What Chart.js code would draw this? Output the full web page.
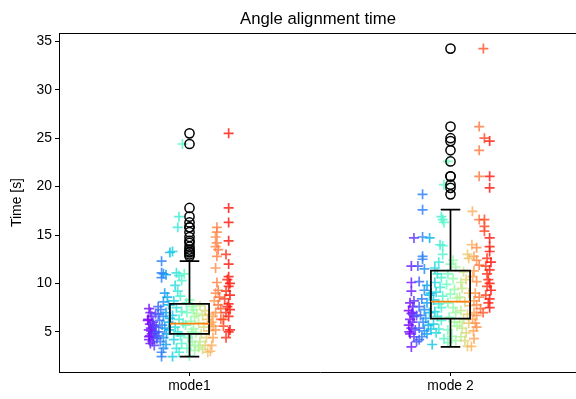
<!DOCTYPE html>
<html>
<head>
<meta charset="utf-8">
<script src="https://cdn.jsdelivr.net/npm/chart.js@4.4.1/dist/chart.umd.min.js"></script>
<style>
  html, body { margin: 0; padding: 0; overflow: hidden; background: #fff; }
  canvas { display: block; }
</style>
</head>
<body>
<canvas id="chart" width="582" height="399"></canvas>
<script>
// ---- data ----
const categories = ['mode1', 'mode 2'];
const yTicks = [5, 10, 15, 20, 25, 30, 35];

// horizontal jitter (in category units) and time [s] of each trial
const mode1Jitter = [
  -0.155,-0.15,-0.145,-0.158,-0.14,-0.152,-0.135,-0.148,-0.156,-0.13,-0.145,-0.152,-0.138,-0.155,-0.142,-0.15,-0.135,-0.128,-0.16,-0.133,-0.147,-0.125,-0.14,-0.13,-0.155,
  -0.107,-0.107,-0.1,-0.107,-0.09,-0.095,-0.085,-0.1,-0.12,-0.11,-0.09,-0.1,-0.115,-0.08,-0.105,-0.095,-0.118,-0.088,-0.1,-0.112,-0.09,-0.1,-0.107,-0.107,-0.075,-0.08,-0.075,-0.12,-0.122,-0.078,
  -0.027,-0.04,-0.045,-0.065,-0.065,-0.05,-0.04,-0.03,-0.055,-0.045,-0.035,-0.06,-0.05,-0.03,-0.065,-0.04,-0.025,-0.055,-0.045,-0.035,-0.06,-0.03,-0.05,-0.04,-0.02,
  0.0,0.01,-0.01,0.02,0.005,-0.015,0.015,0.025,-0.005,0.01,0.02,-0.01,0.0,0.015,0.028,-0.012,0.008,0.02,
  0.04,0.06,0.05,0.07,0.035,0.055,0.075,0.045,0.065,0.04,0.06,0.05,0.07,0.075,0.08,0.035,
  0.105,0.105,0.1,0.105,0.1,0.11,0.105,0.1,0.105,0.11,0.1,0.115,0.095,0.11,0.12,0.1,0.09,0.12,0.085,0.09,0.1,0.09,0.085,0.08,
  0.15,0.15,0.15,0.15,0.14,0.15,0.15,0.145,0.155,0.15,0.14,0.155,0.135,0.15,0.145,0.155,0.14,0.15,0.13,0.155,0.15,0.14,0.13
];
const mode1Time = [
  7.4,7.0,6.6,6.3,6.0,5.8,5.6,5.4,5.2,5.0,4.8,4.6,4.4,4.2,4.0,3.8,3.6,5.5,6.2,4.9,5.1,4.3,5.7,6.9,4.5,
  12.3,11.1,11.0,10.6,10.9,9.0,8.6,8.1,7.6,7.3,7.0,6.6,6.2,6.0,5.7,5.4,5.0,4.8,4.4,4.0,3.7,3.3,2.9,2.45,13.2,7.8,6.4,6.8,4.6,5.2,
  24.4,16.9,15.8,13.3,2.45,11.1,10.8,10.3,9.8,9.2,8.7,8.2,7.5,7.1,6.7,6.3,5.9,5.5,5.0,4.6,4.2,3.8,3.3,2.9,11.0,
  8.3,7.6,7.0,6.6,6.1,5.7,5.3,4.9,4.4,4.0,3.6,3.3,2.5,7.3,6.9,8.0,5.0,3.1,
  7.7,7.2,6.7,6.3,5.9,5.5,5.1,4.8,4.4,4.0,3.6,3.2,2.9,6.8,5.8,3.4,
  15.8,15.3,14.8,14.2,13.8,13.5,12.8,11.6,10.1,9.3,9.0,8.6,8.2,7.8,7.4,7.0,6.6,6.3,6.0,5.6,5.2,4.4,3.6,3.0,
  25.5,17.8,16.3,14.4,13.0,12.0,10.7,10.4,10.0,9.7,9.2,8.8,8.4,7.9,7.6,7.3,7.0,6.6,6.3,5.2,5.0,4.4,5.6
];

const mode2Jitter = [
  -0.14,-0.15,-0.15,-0.15,-0.155,-0.145,-0.16,-0.15,-0.14,-0.155,-0.145,-0.16,-0.15,-0.135,-0.155,-0.14,-0.15,-0.13,-0.145,-0.13,-0.158,-0.14,
  -0.107,-0.107,-0.107,-0.08,-0.107,-0.107,-0.125,-0.1,-0.12,-0.09,-0.1,-0.08,-0.11,-0.09,-0.12,-0.1,-0.08,-0.115,-0.095,-0.105,-0.085,-0.12,-0.1,-0.09,-0.12,-0.11,-0.075,-0.075,
  -0.01,-0.025,-0.035,-0.03,-0.025,-0.04,-0.03,-0.03,-0.045,-0.06,-0.05,-0.035,-0.06,-0.04,-0.055,-0.03,-0.065,-0.045,-0.035,-0.06,-0.05,-0.035,-0.065,-0.045,-0.07,-0.025,-0.055,
  0.0,0.02,-0.01,0.01,-0.015,0.015,0.0,0.025,-0.01,0.01,0.02,-0.005,0.015,0.025,-0.01,0.005,0.02,-0.01,0.01,
  0.065,0.07,0.05,0.04,0.06,0.045,0.07,0.035,0.055,0.075,0.04,0.065,0.05,0.07,0.045,0.06,0.04,0.055,0.065,0.035,
  0.11,0.11,0.11,0.084,0.11,0.082,0.1,0.09,0.1,0.11,0.09,0.085,0.1,0.095,0.11,0.09,0.1,0.115,0.09,0.1,0.085,0.095,0.1,0.088,0.08,0.09,
  0.126,0.13,0.15,0.15,0.15,0.13,0.13,0.13,0.15,0.15,0.15,0.14,0.155,0.135,0.15,0.14,0.145,0.15,0.14,0.155,0.135,0.15,0.145,0.15,0.125
];
const mode2Time = [
  14.7,11.8,10.1,9.2,8.0,7.6,7.2,6.9,6.6,6.3,6.0,5.7,5.4,5.2,4.8,4.5,3.45,4.0,7.0,6.7,5.0,8.2,
  19.2,17.6,14.8,14.7,12.8,12.5,11.8,11.5,10.2,9.8,9.3,8.8,8.4,8.0,7.6,7.3,7.0,6.7,6.4,6.0,5.7,5.4,5.1,4.8,4.2,4.5,5.3,9.0,
  22.6,20.2,16.9,16.6,16.3,14.0,13.0,13.9,12.2,11.6,11.0,10.6,10.1,9.6,9.1,8.7,8.3,7.9,7.5,7.1,6.6,6.2,5.8,5.3,3.7,4.3,4.9,
  12.0,11.7,11.0,10.5,9.9,9.4,8.9,8.5,8.0,7.5,7.0,6.5,6.0,5.6,5.2,4.55,4.1,3.9,12.4,
  13.0,12.6,11.2,10.1,10.4,9.5,9.0,8.6,8.1,7.7,7.2,6.8,6.3,5.9,5.4,4.9,4.5,4.1,3.5,6.0,
  26.2,23.75,21.06,17.45,16.6,14.0,13.7,12.8,12.4,11.9,11.3,10.7,10.2,9.0,8.6,8.2,7.8,7.4,7.0,6.7,6.3,5.9,5.5,5.1,3.5,4.3,
  34.25,25.0,24.7,21.06,19.87,16.6,15.9,15.4,14.7,13.8,13.3,12.6,12.2,11.8,11.4,11.0,10.4,10.0,9.7,9.3,8.8,8.4,8.0,7.5,7.0
];

// box statistics per category
const boxQ1 = [4.8, 6.37];
const boxMedian = [5.86, 8.13];
const boxQ3 = [7.89, 11.33];
const whiskerLow = [2.45, 3.45];
const whiskerHigh = [12.3, 17.63];

// ---- styling helpers ----
const FONT = '"Liberation Sans", Arial, sans-serif';
const BOX_WIDTH = 0.15;
const JITTER_SPAN = 0.16;

// matplotlib "rainbow" colormap
function rainbow(t, alpha) {
  t = Math.max(0, Math.min(1, t));
  const r = Math.min(1, Math.abs(2 * t - 0.5));
  const g = Math.sin(Math.PI * t);
  const b = Math.cos(Math.PI * t / 2);
  return `rgba(${Math.round(r * 255)},${Math.round(g * 255)},${Math.round(b * 255)},${alpha})`;
}

const groups = [
  { jitter: mode1Jitter, time: mode1Time },
  { jitter: mode2Jitter, time: mode2Time }
];

const scatterSets = groups.map((g, i) => ({
  type: 'scatter',
  order: 1,
  data: g.time.map((v, k) => ({ x: i + 1 + g.jitter[k], y: v })),
  pointStyle: 'cross',
  pointRadius: 5,
  pointBorderWidth: 1.7,
  pointBorderColor: g.jitter.map(j => rainbow((j + JITTER_SPAN) / (2 * JITTER_SPAN), 0.82)),
  pointBackgroundColor: 'transparent'
}));

const flierSets = groups.map((g, i) => ({
  type: 'scatter',
  order: 0,
  data: g.time.filter(v => v > whiskerHigh[i] || v < whiskerLow[i]).map(v => ({ x: i + 1, y: v })),
  pointStyle: 'circle',
  pointRadius: 4.6,
  pointBorderWidth: 1.5,
  pointBorderColor: '#000',
  pointBackgroundColor: 'transparent'
}));

// box, median, whiskers, caps, top spine and title
const boxPlugin = {
  id: 'boxes',
  afterDatasetsDraw(chart) {
    const { ctx, chartArea, scales: { x, y } } = chart;
    ctx.save();
    categories.forEach((c, i) => {
      const pos = i + 1;
      const cx = x.getPixelForValue(pos);
      const l = x.getPixelForValue(pos - BOX_WIDTH / 2);
      const r = x.getPixelForValue(pos + BOX_WIDTH / 2);
      const cl = x.getPixelForValue(pos - BOX_WIDTH / 4);
      const cr = x.getPixelForValue(pos + BOX_WIDTH / 4);
      const q1 = y.getPixelForValue(boxQ1[i]);
      const q3 = y.getPixelForValue(boxQ3[i]);
      const lo = y.getPixelForValue(whiskerLow[i]);
      const hi = y.getPixelForValue(whiskerHigh[i]);
      const med = y.getPixelForValue(boxMedian[i]);

      ctx.strokeStyle = '#000';
      ctx.lineWidth = 1.7;
      ctx.beginPath();
      ctx.rect(l, q3, r - l, q1 - q3);
      ctx.moveTo(cx, q3); ctx.lineTo(cx, hi);
      ctx.moveTo(cx, q1); ctx.lineTo(cx, lo);
      ctx.moveTo(cl, hi); ctx.lineTo(cr, hi);
      ctx.moveTo(cl, lo); ctx.lineTo(cr, lo);
      ctx.stroke();

      ctx.strokeStyle = '#ff7f0e';
      ctx.beginPath();
      ctx.moveTo(l, med); ctx.lineTo(r, med);
      ctx.stroke();
    });

    // top spine
    ctx.strokeStyle = '#000';
    ctx.lineWidth = 1;
    ctx.beginPath();
    ctx.moveTo(chartArea.left, chartArea.top + 0.5);
    ctx.lineTo(chartArea.right, chartArea.top + 0.5);
    ctx.stroke();

    // title
    ctx.fillStyle = '#000';
    ctx.font = '16.7px ' + FONT;
    ctx.textAlign = 'center';
    ctx.textBaseline = 'alphabetic';
    ctx.fillText('Angle alignment time', (chartArea.left + chartArea.right) / 2 - 2, 24);
    ctx.restore();
  }
};

new Chart(document.getElementById('chart'), {
  type: 'scatter',
  data: { datasets: [...flierSets, ...scatterSets] },
  options: {
    responsive: false,
    animation: false,
    events: [],
    layout: { padding: { top: 33, right: 1, left: 0, bottom: 0 }, autoPadding: false },
    plugins: { legend: { display: false }, tooltip: { enabled: false }, title: { display: false } },
    scales: {
      x: {
        type: 'linear',
        min: 0.5,
        max: 2.5,
        afterBuildTicks: axis => { axis.ticks = categories.map((c, i) => ({ value: i + 1 })); },
        afterFit: scale => { scale.height = 27; },
        ticks: {
          autoSkip: false,
          maxRotation: 0,
          padding: 2,
          color: '#000',
          font: { family: FONT, size: 13.9 },
          callback: v => categories[v - 1]
        },
        grid: { drawOnChartArea: false, drawTicks: true, tickLength: 4, color: '#000', lineWidth: 1 },
        border: { display: true, color: '#000', width: 1 }
      },
      y: {
        min: 0.86,
        max: 35.86,
        afterBuildTicks: axis => { axis.ticks = yTicks.map(v => ({ value: v })); },
        afterFit: scale => { scale.width = 59; },
        ticks: {
          autoSkip: false,
          padding: 3,
          color: '#000',
          font: { family: FONT, size: 13.9 }
        },
        grid: { drawOnChartArea: false, drawTicks: true, tickLength: 4, color: '#000', lineWidth: 1 },
        border: { display: true, color: '#000', width: 1 },
        title: {
          display: true,
          text: 'Time [s]',
          color: '#000',
          font: { family: FONT, size: 13.9 },
          padding: { top: 9, bottom: 0 }
        }
      }
    }
  },
  plugins: [boxPlugin]
});
</script>
</body>
</html>
